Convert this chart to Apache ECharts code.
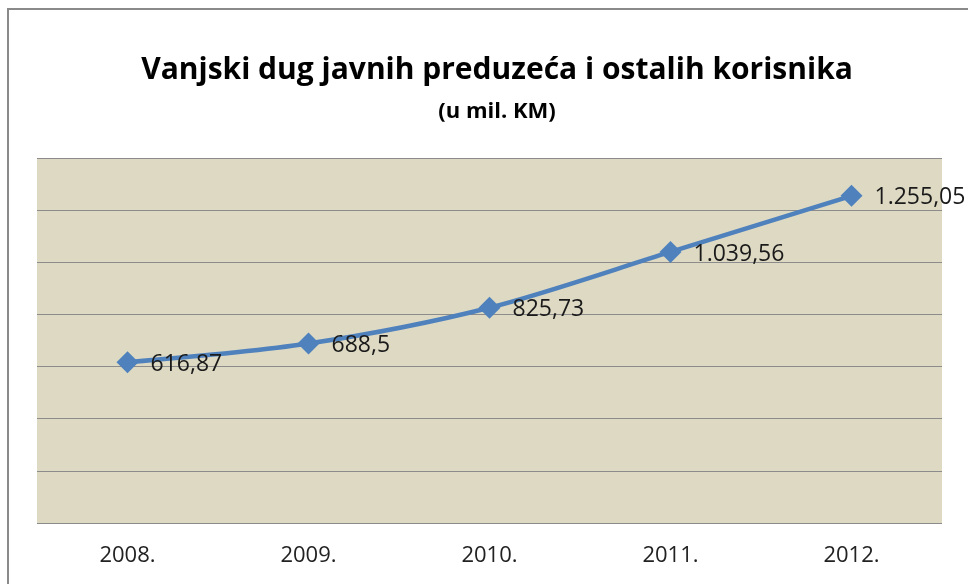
<!DOCTYPE html>
<html>
<head>
<meta charset="utf-8">
<script src="https://cdn.jsdelivr.net/npm/echarts@6/dist/echarts.min.js"></script>
<style>
  html, body { margin: 0; padding: 0; background: #fff; }
  #chart { width: 968px; height: 584px; }
</style>
</head>
<body>
<div id="chart"></div>
<script>
const years = ['2008.', '2009.', '2010.', '2011.', '2012.']
const debt = [616.87, 688.5, 825.73, 1039.56, 1255.05]

// 1255.05 -> "1.255,05"
const fmt = v => {
  const [i, d] = String(v).split('.')
  const int = i.replace(/\B(?=(\d{3})+(?!\d))/g, '.')
  return d ? int + ',' + d : int
}

const chart = echarts.init(document.getElementById('chart'))

chart.setOption({
  animation: false,
  graphic: [
    {
      type: 'rect',
      shape: { x: 8, y: 9, width: 1000, height: 600 },
      style: { fill: 'none', stroke: '#8a8a8a', lineWidth: 2 },
      z: -1
    }
  ],
  title: {
    text: 'Vanjski dug javnih preduzeća i ostalih korisnika',
    subtext: '(u mil. KM)',
    left: 492,
    textAlign: 'center',
    top: 50,
    itemGap: 16,
    textStyle: { fontFamily: 'Open Sans', fontSize: 30, fontWeight: 'bold', color: '#000' },
    subtextStyle: { fontFamily: 'Open Sans', fontSize: 22, fontWeight: 'bold', color: '#000' }
  },
  grid: {
    left: 37,
    right: 26,
    top: 158,
    bottom: 61,
    show: true,
    backgroundColor: '#ddd9c3',
    borderWidth: 0
  },
  xAxis: {
    type: 'category',
    data: years,
    boundaryGap: true,
    axisLine: { show: false },
    axisTick: { show: false },
    axisLabel: { color: '#222', fontSize: 22, fontFamily: 'Open Sans', margin: 22 }
  },
  yAxis: {
    type: 'value',
    min: 0,
    max: 1400,
    interval: 200,
    axisLabel: { show: false },
    axisLine: { show: false },
    axisTick: { show: false },
    splitLine: { lineStyle: { color: '#8c8c8c', width: 1.2 } }
  },
  series: [
    {
      type: 'line',
      data: debt,
      smooth: 0.3,
      symbol: 'diamond',
      symbolSize: 22,
      itemStyle: { color: '#4f81bd' },
      lineStyle: { color: '#4f81bd', width: 4.5 },
      label: {
        show: true,
        position: 'right',
        distance: 12,
        offset: [0, 2],
        color: '#1a1a1a',
        fontSize: 23,
        fontFamily: 'Open Sans',
        formatter: p => fmt(p.value)
      }
    }
  ]
})
</script>
</body>
</html>
